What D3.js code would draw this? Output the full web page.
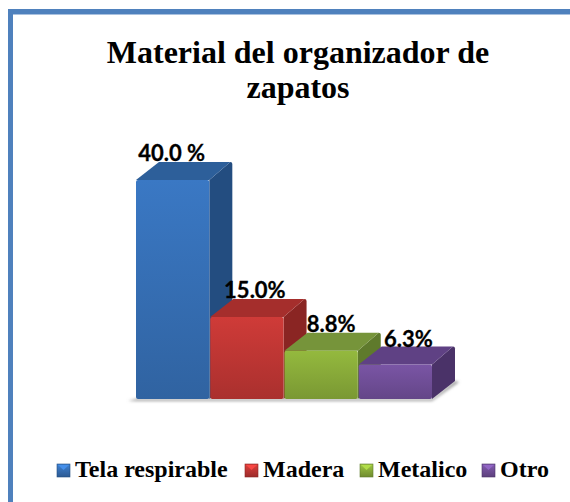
<!DOCTYPE html>
<html><head><meta charset="utf-8">
<style>html,body{margin:0;padding:0;background:#fff}svg{display:block}</style>
<script src="https://cdn.jsdelivr.net/npm/d3@7/dist/d3.min.js"></script>
</head><body><div id="c"></div>
<script>
const categories = ["Tela respirable","Madera","Metalico","Otro"];
const values = [40.0,15.0,8.8,6.3];
const valueLabels = ["40.0 %","15.0%","8.8%","6.3%"];
const frontColors = ["#3a78c4","#cf3b38","#94b93e","#7a55a5"];
const topColors = ["#2d5f9a","#a52e2c","#76943a","#5f4184"];
const sideColors = ["#234d80","#8a2523","#5f7a2c","#4a3268"];
const titleLines = ["Material del organizador de","zapatos"];
const labelDx = [-1,8,10,13], labelY = [161,298,332,347], legendX = [57,245,360,482];

const W=570,H=502;
const svg=d3.select("#c").append("svg").attr("width",W).attr("height",H);
const defs=svg.append("defs");
const dx=23,dy=-18;
const x=d3.scaleBand().domain(categories).range([136,432]).paddingInner(0.012);
const y=d3.scaleLinear().domain([0,40]).range([399,180]);

svg.append("rect").attr("x",8).attr("y",9).attr("width",W-8).attr("height",5).attr("fill","#4f81bd");
svg.append("rect").attr("x",8).attr("y",9).attr("width",5).attr("height",H-9).attr("fill","#4f81bd");
svg.append("rect").attr("x",13).attr("y",14).attr("width",W-13).attr("height",1).attr("fill","#a9c1df");

svg.append("g").selectAll("text").data(titleLines).join("text")
 .attr("x",298).attr("y",(d,i)=>[63,98][i]).attr("text-anchor","middle")
 .attr("font-family","Liberation Serif").attr("font-weight","bold").attr("font-size",32).attr("fill","#000").text(d=>d);

categories.forEach((c,i)=>{
 const g=defs.append("linearGradient").attr("id","f"+i).attr("x1",0).attr("x2",0).attr("y1",0).attr("y2",1);
 g.append("stop").attr("offset","0").attr("stop-color",frontColors[i]);
 g.append("stop").attr("offset","1").attr("stop-color",d3.color(frontColors[i]).darker(0.55));
 const l=defs.append("linearGradient").attr("id","l"+i).attr("x1",0).attr("x2",0).attr("y1",0).attr("y2",1);
 l.append("stop").attr("offset","0").attr("stop-color",d3.color(frontColors[i]).brighter(0.2));
 l.append("stop").attr("offset","1").attr("stop-color",d3.color(frontColors[i]).darker(0.8));
});

const x0=x(categories[0]), x1=x(categories[3])+x.bandwidth();
const sh=defs.append("filter").attr("id","blur").attr("x","-10%").attr("y","-100%").attr("width","120%").attr("height","300%");
sh.append("feGaussianBlur").attr("stdDeviation",1.5);
svg.append("path").attr("filter","url(#blur)").attr("fill","#9a9a9a")
 .attr("d",`M${x0-8},${y(0)+2}L${x1},${y(0)+2}L${x1+dx+4},${y(0)+dy+1}L${x1+dx},${y(0)+dy}L${x1},${y(0)}L${x0},${y(0)}Z`);

const bars=svg.append("g").selectAll("g").data(categories).join("g");
bars.append("path").attr("fill",(d,i)=>sideColors[i]).attr("d",(d,i)=>{
 const r=x(d)+x.bandwidth(),t=y(values[i]),b=y(0);
 return `M${r},${t}L${r+dx-2},${t+dy}Q${r+dx},${t+dy} ${r+dx},${t+dy+2}L${r+dx},${b+dy}L${r},${b}Z`;});
bars.append("path").attr("fill",(d,i)=>topColors[i]).attr("d",(d,i)=>{
 const l=x(d),r=l+x.bandwidth(),t=y(values[i]);
 return `M${l},${t}L${l+dx},${t+dy}L${r+dx-2},${t+dy}L${r},${t}Z`;});
bars.append("rect").attr("x",d=>x(d)).attr("width",x.bandwidth())
 .attr("y",(d,i)=>y(values[i])).attr("height",(d,i)=>y(0)-y(values[i]))
 .attr("rx",2).attr("fill",(d,i)=>`url(#f${i})`);

svg.append("g").selectAll("text").data(valueLabels).join("text")
 .attr("x",(d,i)=>x(categories[i])+x.bandwidth()/2+labelDx[i]).attr("y",(d,i)=>labelY[i])
 .attr("text-anchor","middle").attr("font-family","Lato").attr("font-weight","bold").attr("font-size",22)
 .attr("fill","#000").attr("stroke","#000").attr("stroke-width",0.3).text(d=>d);

const leg=svg.append("g").selectAll("g").data(categories).join("g");
leg.append("rect").attr("x",(d,i)=>legendX[i]).attr("y",464).attr("width",13).attr("height",13)
 .attr("fill",(d,i)=>`url(#l${i})`).attr("stroke",(d,i)=>sideColors[i]).attr("stroke-width",0.6);
leg.append("path").attr("fill",(d,i)=>d3.color(frontColors[i]).brighter(0.5))
 .attr("d",(d,i)=>{const a=legendX[i];return `M${a+1},465L${a+12},465L${a+6.5},470Z`;});
leg.append("text").attr("x",(d,i)=>legendX[i]+18).attr("y",477)
 .attr("font-family","Liberation Serif").attr("font-weight","bold").attr("font-size",24).attr("fill","#000").text(d=>d);
</script></body></html>
